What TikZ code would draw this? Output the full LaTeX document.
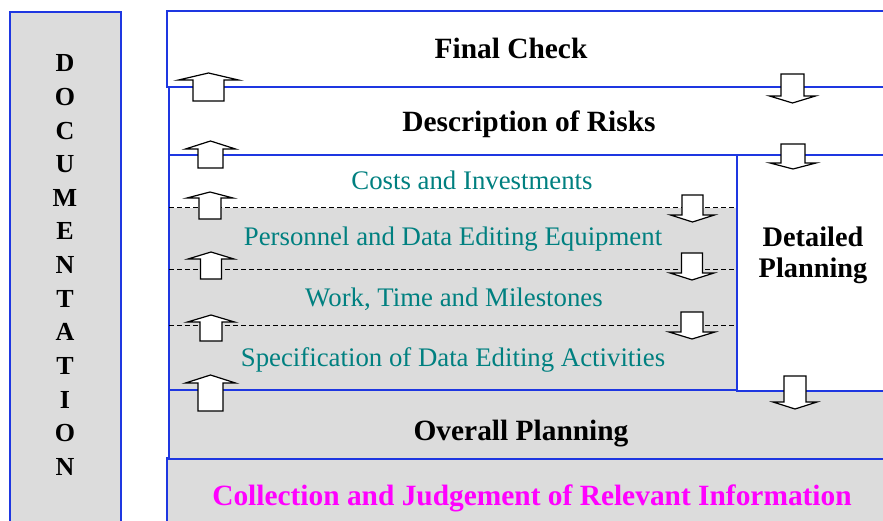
\documentclass[tikz,border=0pt]{standalone}
\usepackage{fontspec}
\setmainfont{Liberation Serif}
\definecolor{bblue}{RGB}{30,55,225}
\definecolor{lgray}{RGB}{220,220,220}
\definecolor{tealtxt}{RGB}{0,128,128}
\definecolor{magtxt}{RGB}{255,0,255}
\newcommand{\UpArr}[6]{\draw[arrowshape] (#1,#2) -- (#1+#6,#3) -- (#1+#5,#3) -- (#1+#5,#4) -- (#1-#5,#4) -- (#1-#5,#3) -- (#1-#6,#3) -- cycle;}
\newcommand{\DnArr}[6]{\draw[arrowshape] (#1,#4) -- (#1+#6,#3) -- (#1+#5,#3) -- (#1+#5,#2) -- (#1-#5,#2) -- (#1-#5,#3) -- (#1-#6,#3) -- cycle;}
\begin{document}
\begin{tikzpicture}[x=1pt,y=-1pt,
  box/.style={draw=bblue,line width=1.6pt},
  arrowshape/.style={draw=black,fill=white,line width=1.2pt,line join=miter},
  sep/.style={draw=black,line width=1pt,dash pattern=on 5pt off 3pt},
  bigtxt/.style={font=\fontsize{29.4}{31}\selectfont\bfseries,anchor=base,inner sep=0pt},
  dptxt/.style={font=\fontsize{28.3}{30}\selectfont\bfseries,anchor=base,inner sep=0pt},
  subtxt/.style={font=\fontsize{26.8}{28}\selectfont,text=tealtxt,anchor=base,inner sep=0pt},
  doctxt/.style={font=\fontsize{26}{28}\selectfont\bfseries,anchor=base,inner sep=0pt}]
\useasboundingbox (0,0) rectangle (883,521);
\clip (0,0) rectangle (883,521);
% documentation column
\draw[box,fill=lgray,line width=1.3pt] (10,12) rectangle (121,540);
\foreach \l [count=\i] in {D,O,C,U,M,E,N,T,A,T,I,O,N}
  \node[doctxt] (doc\i) at (65,72+\i*33.6-33.6) {\l};
% collection
\draw[box,fill=lgray] (167,458) rectangle (900,540);
% overall planning
\draw[box,fill=lgray] (169,390) rectangle (900,459);
% detailed area (left)
\fill[white] (169,155) rectangle (737,208);
\fill[lgray] (169,208) rectangle (737,390);
\draw[box] (169,155) rectangle (737,390);
\draw[sep] (169,208) -- (737,208);
\draw[sep] (169,270) -- (737,270);
\draw[sep] (169,325) -- (737,325);
% detailed planning box
\draw[box,fill=white] (737,155) rectangle (900,391);
% description of risks
\draw[box,fill=white] (169,87) rectangle (900,155);
% final check
\draw[box,fill=white] (167,11) rectangle (900,87);
% texts
\node[bigtxt] (fc) at (511,59) {Final Check};
\node[bigtxt] (dr) at (529,132) {Description of Risks};
\node[subtxt] (ci) at (472,190) {Costs and Investments};
\node[subtxt] (pe) at (453,246) {Personnel and Data Editing Equipment};
\node[subtxt] (wt) at (454,306) {Work, Time and Milestones};
\node[subtxt] (sp) at (453,366) {Specification of Data Editing Activities};
\node[dptxt] (dp1) at (813,247) {Detailed};
\node[dptxt] (dp2) at (813,278) {Planning};
\node[bigtxt] (op) at (521,440) {Overall Planning};
\node[bigtxt,text=magtxt] (cj) at (532,505) {Collection and Judgement of Relevant Information};
% up arrows
\UpArr{208.5}{73}{80}{101}{15.5}{30}
\UpArr{210.5}{141}{149}{168}{12.5}{25}
\UpArr{210}{192}{198}{219}{11}{23}
\UpArr{211}{252}{259}{279}{10.5}{23}
\UpArr{211}{315}{322}{341}{11}{23.5}
\UpArr{210.5}{375}{383}{411}{12.5}{25}
% down arrows
\DnArr{792.5}{74}{96}{103}{11.5}{23}
\DnArr{793}{144}{163}{169}{12}{23}
\DnArr{692.5}{195}{215}{222}{10.5}{22}
\DnArr{692}{253}{273}{280}{10.5}{22}
\DnArr{692}{312}{332}{339}{11}{23}
\DnArr{795}{376}{402}{409}{11}{22}
\end{tikzpicture}
\end{document}
